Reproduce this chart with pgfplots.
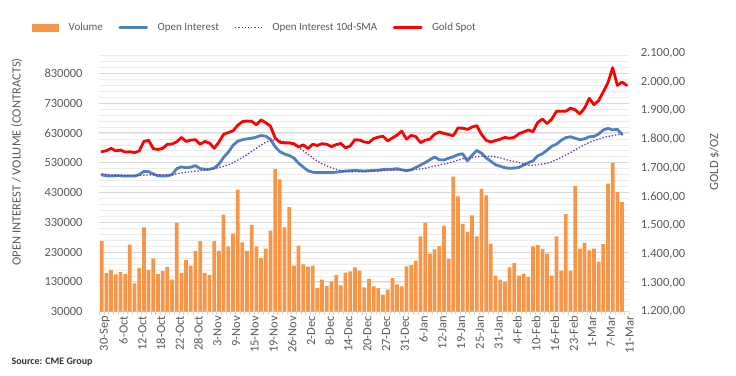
\documentclass[border=0pt]{standalone}
\usepackage{pgfplots}
\pgfplotsset{compat=1.18}
\usepackage{pgfplotstable}
\usepackage{fontspec}
\setmainfont{Carlito}
\definecolor{volc}{RGB}{247,150,70}
\definecolor{oic}{RGB}{79,129,189}
\definecolor{smac}{RGB}{112,48,160}
\definecolor{goldc}{RGB}{255,0,0}
\definecolor{txt}{RGB}{89,89,89}
\definecolor{gridmaj}{RGB}{217,217,217}
\definecolor{gridmin}{RGB}{236,236,236}
\newcommand\tickfont{\fontsize{12.5}{14}\selectfont}

\pgfplotstableread{
x vol oi sma
0 267000 489000 493000
1 160000 486000 491000
2 170000 485000 489000
3 155000 486000 488000
4 163000 486000 487000
5 156000 485000 487000
6 255000 485000 487000
7 125000 485000 487000
8 177000 490000 487000
9 313000 501000 488000
10 170000 500000 489000
11 209000 492000 489500
12 156000 486000 489600
13 166000 485000 489500
14 180000 486000 489500
15 138000 490000 490000
16 328000 510000 492500
17 160000 516000 495600
18 203000 513000 497900
19 185000 515000 499300
20 234000 520000 501300
21 267000 510000 503100
22 160000 508000 505300
23 153000 508000 507600
24 267000 512000 510200
25 234000 525000 513700
26 356000 548000 517500
27 249000 565000 522400
28 292000 588000 529900
29 440000 602000 538600
30 263000 607000 547300
31 234000 610000 557300
32 321000 612000 567700
33 249000 616000 578500
34 210000 621000 589400
35 242000 619000 598800
36 302000 608000 604800
37 509000 583000 606600
38 474000 567000 604500
39 313000 559000 600200
40 381000 554000 594900
41 185000 546000 588500
42 252000 528000 580100
43 189000 515000 570000
44 181000 503000 558200
45 185000 498000 546100
46 110000 497000 535000
47 138000 497000 526400
48 117000 497000 519400
49 132000 497000 513200
50 153000 498000 507600
51 118000 500000 503000
52 161000 502000 500400
53 165000 503000 499200
54 179000 504000 499300
55 168000 503000 499800
56 112000 502000 500300
57 140000 503000 500900
58 115000 504000 501600
59 109000 505000 502400
60 86000 507000 503300
61 104000 508000 504100
62 143000 508000 504700
63 122000 510000 505400
64 115000 506000 505600
65 182000 503000 505600
66 186000 506000 506000
67 201000 514000 507100
68 283000 522000 508900
69 329000 530000 511400
70 225000 540000 514700
71 239000 549000 518800
72 250000 540000 522000
73 318000 539000 524900
74 207000 545000 528800
75 483000 550000 533500
76 417000 557000 538600
77 325000 560000 543200
78 299000 536000 544600
79 353000 555000 546900
80 283000 571000 550000
81 442000 562000 551300
82 420000 546000 551900
83 258000 535000 551500
84 151000 523000 549300
85 137000 518000 546100
86 130000 513000 541700
87 179000 511000 536800
88 193000 512000 534400
89 151000 514000 530500
90 157000 522000 525600
91 146000 530000 522400
92 249000 536000 521400
93 253000 553000 523200
94 241000 560000 525500
95 225000 572000 528000
96 151000 585000 533000
97 283000 592000 540000
98 168000 605000 548000
99 357000 614000 556000
100 168000 617000 564000
101 452000 612000 573000
102 242000 607000 582000
103 261000 610000 590000
104 236000 617000 598000
105 242000 618000 604000
106 198000 626000 609000
107 257000 640000 614000
108 460000 645000 618000
109 529000 640000 621000
110 432000 642000 624000
111 398000 625000 626000
}\maindata

\pgfplotstableread{
x g
0 1757
1 1761
2 1769
3 1760
4 1763
5 1756
6 1757
7 1754
8 1760
9 1793
10 1797
11 1768
12 1765
13 1769
14 1783
15 1784
16 1792
17 1807
18 1793
19 1798
20 1799
21 1783
22 1793
23 1787
24 1769
25 1791
26 1818
27 1824
28 1830
29 1849
30 1862
31 1864
32 1863
33 1851
34 1868
35 1858
36 1846
37 1805
38 1790
39 1788
40 1788
41 1785
42 1774
43 1781
44 1768
45 1783
46 1779
47 1785
48 1783
49 1775
50 1782
51 1786
52 1771
53 1777
54 1799
55 1798
56 1791
57 1789
58 1803
59 1808
60 1811
61 1795
62 1805
63 1815
64 1829
65 1801
66 1814
67 1810
68 1789
69 1797
70 1801
71 1818
72 1826
73 1821
74 1817
75 1813
76 1840
77 1839
78 1835
79 1843
80 1848
81 1818
82 1797
83 1791
84 1796
85 1801
86 1807
87 1804
88 1807
89 1820
90 1826
91 1833
92 1827
93 1859
94 1871
95 1855
96 1871
97 1898
98 1898
99 1898
100 1909
101 1903
102 1889
103 1909
104 1943
105 1921
106 1935
107 1966
108 1998
109 2050
110 1988
111 2000
112 1988
}\golddata

\begin{document}
\begin{tikzpicture}
\path[use as bounding box] (-99.4pt,-63.3pt) rectangle (636.6pt,311.7pt);
\begin{axis}[
  at={(0pt,0pt)}, anchor=south west,
  scale only axis, width=529.7pt, height=258.4pt,
  xmin=-0.5, xmax=112.5, ymin=30000, ymax=897000,
  scaled y ticks=false,
  axis x line*=bottom, axis y line*=left,
  x axis line style={-, draw=gridmaj, line width=0.8pt},
  y axis line style={draw=none},
  tick align=outside,
  xtick={0,4,...,112},
  xticklabels={30-Sep,6-Oct,12-Oct,18-Oct,22-Oct,28-Oct,3-Nov,9-Nov,15-Nov,19-Nov,26-Nov,2-Dec,8-Dec,14-Dec,20-Dec,27-Dec,31-Dec,6-Jan,12-Jan,19-Jan,25-Jan,31-Jan,4-Feb,10-Feb,16-Feb,23-Feb,1-Mar,7-Mar,11-Mar},
  minor xtick={-0.5,0.5,...,112.5},
  major x tick style={draw=none},
  minor x tick style={draw=gridmaj, line width=0.6pt},
  minor tick length=3pt,
  xticklabel style={rotate=90, anchor=east, font=\tickfont, text=txt, inner sep=0pt, yshift=-3pt},
  ytick={30000,130000,...,830000},
  yticklabels={30000,130000,230000,330000,430000,530000,630000,730000,830000},
  minor ytick={50000,70000,...,890000},
  major y tick style={draw=none},
  minor y tick style={draw=none},
  ymajorgrids, yminorgrids,
  major grid style={draw=gridmaj, line width=0.8pt},
  minor grid style={draw=gridmin, line width=0.6pt},
  yticklabel style={font=\tickfont, text=txt, inner sep=0pt, anchor=east, xshift=-12.4pt},
  ylabel={OPEN INTEREST / VOLUME (CONTRACTS)},
  ylabel style={at={(axis description cs:-0.1556,0.58)}, anchor=center, font=\tickfont, text=txt},
  legend style={at={(axis description cs:-0.1272,1.099)}, anchor=west, draw=none, fill=none,
    inner sep=0pt, legend columns=4, font=\fontsize{11}{13}\selectfont, text=txt,
    nodes={inner sep=0pt},
    /tikz/every odd column/.append style={column sep=9.5pt},
    /tikz/every even column/.append style={column sep=15.5pt}},
]
\addplot[ybar, bar width=3.75pt, bar shift=0pt, fill=volc, draw=none,
  legend image code/.code={\fill[volc] (0pt,-4pt) rectangle (27pt,4pt);}]
  table[x=x, y=vol] {\maindata};
\addlegendentry{Volume}
\addplot[oic, line width=2.8pt, line join=round, line cap=round, mark=none,
  legend image code/.code={\draw[oic, line width=2.8pt, line cap=round] (0pt,0pt) -- (27pt,0pt);}]
  table[x=x, y=oi] {\maindata};
\addlegendentry{Open Interest}
\addplot[smac, line width=1.3pt, dash pattern=on 1.3pt off 1.9pt, mark=none,
  legend image code/.code={\draw[smac, line width=1.3pt, dash pattern=on 1.3pt off 1.9pt] (0pt,0pt) -- (27pt,0pt);}]
  table[x=x, y=sma] {\maindata};
\addlegendentry{Open Interest 10d-SMA}
\addlegendimage{legend image code/.code={\draw[goldc, line width=2.8pt, line cap=round] (0pt,0pt) -- (27pt,0pt);}}
\addlegendentry{Gold Spot}
\end{axis}
\begin{axis}[
  at={(0pt,0pt)}, anchor=south west,
  scale only axis, width=529.7pt, height=258.4pt,
  xmin=-0.5, xmax=112.5, ymin=1200, ymax=2100,
  hide x axis,
  axis y line*=right,
  y axis line style={draw=none},
  ytick={1200,1300,...,2100},
  yticklabels={{1.200,00},{1.300,00},{1.400,00},{1.500,00},{1.600,00},{1.700,00},{1.800,00},{1.900,00},{2.000,00},{2.100,00}},
  major y tick style={draw=none},
  yticklabel style={font=\tickfont, text=txt, inner sep=0pt, anchor=west, xshift=11.6pt},
  ylabel={GOLD \$/OZ},
  ylabel style={at={(axis description cs:1.1612,0.58)}, anchor=center, font=\tickfont, text=txt},
]
\addplot[goldc, line width=2.8pt, line join=round, line cap=round, mark=none]
  table[x=x, y=g] {\golddata};
\end{axis}
\node[anchor=west, font=\bfseries\fontsize{10}{12}\selectfont, text=black!80] at (-91.4pt,-50.3pt) {Source: CME Group};
\end{tikzpicture}
\end{document}
